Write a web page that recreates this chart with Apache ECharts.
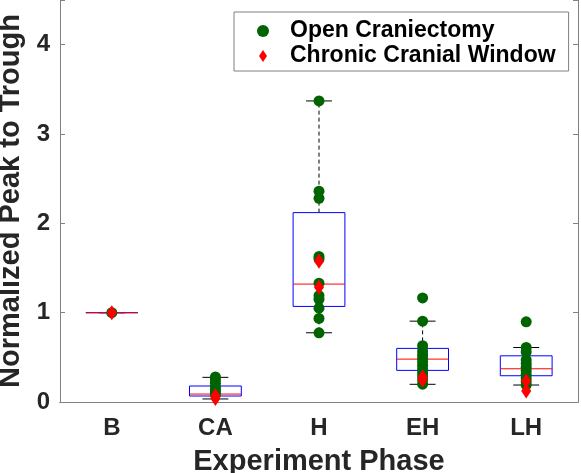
<!DOCTYPE html>
<html><head><meta charset="utf-8">
<script src="https://cdn.jsdelivr.net/npm/echarts@6/dist/echarts.min.js"></script>
<style>html,body{margin:0;padding:0;background:#fff}#c{width:581px;height:473px}</style>
</head><body><div id="c"></div>
<script>
const categories = ['B', 'CA', 'H', 'EH', 'LH'];
const yTicks = [0, 1, 2, 3, 4];

// box statistics per phase
const boxMin    = [1.0, 0.034, 0.775, 0.198, 0.19];
const boxQ1     = [1.0, 0.067, 1.07, 0.354, 0.294];
const boxMedian = [1.0, 0.089, 1.32, 0.48, 0.372];
const boxQ3     = [1.0, 0.179, 2.12, 0.60, 0.517];
const boxMax    = [1.0, 0.276, 3.37, 0.905, 0.61];

// individual points per phase
const openB  = [1.0];
const openCA = [0.28, 0.25, 0.21, 0.17, 0.14, 0.11, 0.08];
const openH  = [3.37, 2.36, 2.28, 1.63, 1.60, 1.33, 1.19, 1.15, 1.05, 0.935, 0.775];
const openEH = [1.165, 0.905, 0.63, 0.57, 0.53, 0.49, 0.45, 0.41, 0.37, 0.33, 0.29, 0.25, 0.2];
const openLH = [0.897, 0.61, 0.56, 0.47, 0.43, 0.39, 0.35, 0.31, 0.27, 0.23, 0.19];

const ccwB  = [1.0];
const ccwCA = [0.07, 0.04];
const ccwH  = [1.575, 1.285];
const ccwEH = [0.28, 0.245];
const ccwLH = [0.235, 0.123];

const openAll = [openB, openCA, openH, openEH, openLH];
const ccwAll  = [ccwB, ccwCA, ccwH, ccwEH, ccwLH];

function pairs(groups) {
  const out = [];
  groups.forEach((g, i) => g.forEach(v => out.push([i, v])));
  return out;
}
const boxData = categories.map((c, i) => [i, boxMin[i], boxQ1[i], boxMedian[i], boxQ3[i], boxMax[i]]);

const font = 'Liberation Sans, Arial, Helvetica, sans-serif';
const axisGray = '#808080';
const textGray = '#262626';

const chart = echarts.init(document.getElementById('c'), null, {renderer: 'canvas'});
chart.setOption({
  animation: false,
  backgroundColor: '#fff',
  grid: {left: 60, right: 3, top: 0, bottom: 71, containLabel: false, outerBoundsMode: 'none'},
  legend: {
    orient: 'vertical',
    left: 234, top: 12,
    padding: [7, 13, 3, 23],
    itemGap: 1,
    itemWidth: 44, itemHeight: 12,
    borderColor: axisGray, borderWidth: 1,
    backgroundColor: '#fff',
    textStyle: {fontSize: 23, fontWeight: 'bold', color: '#000', fontFamily: font, lineHeight: 24},
    data: [
      {name: 'Open Craniectomy', icon: 'circle'},
      {name: 'Chronic Cranial Window', icon: 'path://M0,-7.5L5,0L0,7.5L-5,0Z'}
    ]
  },
  xAxis: [{
    type: 'category', data: categories, position: 'bottom',
    axisLine: {lineStyle: {color: axisGray, width: 1}},
    axisTick: {inside: true, alignWithLabel: true, length: 5, lineStyle: {color: axisGray}},
    axisLabel: {fontSize: 24, fontWeight: 'bold', color: textGray, fontFamily: font, margin: 14},
    name: 'Experiment Phase', nameLocation: 'middle', nameGap: 45,
    nameTextStyle: {fontSize: 29, fontWeight: 'bold', color: textGray, fontFamily: font}
  }, {
    type: 'category', data: categories, position: 'top',
    axisLine: {lineStyle: {color: axisGray, width: 1}},
    axisTick: {inside: true, alignWithLabel: true, length: 5, lineStyle: {color: axisGray}},
    axisLabel: {show: false}
  }],
  yAxis: [{
    type: 'value', min: 0, max: 4.5, interval: 1, position: 'left',
    axisLine: {show: true, lineStyle: {color: axisGray, width: 1}},
    axisTick: {show: true, inside: true, length: 5, lineStyle: {color: axisGray}},
    splitLine: {show: false},
    axisLabel: {fontSize: 24, fontWeight: 'bold', color: textGray, fontFamily: font, margin: 10,
      formatter: v => yTicks.indexOf(v) >= 0 ? String(v) : ''},
    name: 'Normalized Peak to Trough', nameLocation: 'middle', nameGap: 29,
    nameTextStyle: {fontSize: 29, fontWeight: 'bold', color: textGray, fontFamily: font}
  }, {
    type: 'value', min: 0, max: 4.5, interval: 1, position: 'right',
    axisLine: {show: true, lineStyle: {color: axisGray, width: 1}},
    axisTick: {show: true, inside: true, length: 5, lineStyle: {color: axisGray}},
    splitLine: {show: false},
    axisLabel: {show: false}
  }],
  series: [{
    type: 'custom',
    name: 'box',
    z: 1,
    data: boxData,
    renderItem: function (params, api) {
      const i = api.value(0);
      const mn = api.coord([i, api.value(1)]);
      const q1 = api.coord([i, api.value(2)]);
      const md = api.coord([i, api.value(3)]);
      const q3 = api.coord([i, api.value(4)]);
      const mx = api.coord([i, api.value(5)]);
      const band = api.size([1, 0])[0];
      const hw = band * 0.25, cw = band * 0.125;
      const x = mn[0];
      const dash = {stroke: '#000', lineWidth: 1, lineDash: [4, 3]};
      const solid = {stroke: '#000', lineWidth: 1};
      return {
        type: 'group',
        children: [
          {type: 'line', shape: {x1: x, y1: q3[1], x2: x, y2: mx[1]}, style: dash},
          {type: 'line', shape: {x1: x, y1: q1[1], x2: x, y2: mn[1]}, style: dash},
          {type: 'line', shape: {x1: x - cw, y1: mx[1], x2: x + cw, y2: mx[1]}, style: solid},
          {type: 'line', shape: {x1: x - cw, y1: mn[1], x2: x + cw, y2: mn[1]}, style: solid},
          {type: 'rect', shape: {x: x - hw, y: q3[1], width: 2 * hw, height: q1[1] - q3[1]},
            style: {stroke: '#0000ff', fill: 'none', lineWidth: 1}},
          {type: 'line', shape: {x1: x - hw, y1: md[1], x2: x + hw, y2: md[1]},
            style: {stroke: '#ff0000', lineWidth: 1}}
        ]
      };
    }
  }, {
    type: 'scatter',
    name: 'Open Craniectomy',
    z: 3,
    symbol: 'circle', symbolSize: 11,
    itemStyle: {color: '#006400', opacity: 1},
    data: pairs(openAll)
  }, {
    type: 'scatter',
    name: 'Chronic Cranial Window',
    z: 4,
    symbol: 'diamond', symbolSize: [10, 15],
    itemStyle: {color: '#ff0000', opacity: 1},
    data: pairs(ccwAll)
  }]
});
</script>
</body></html>
